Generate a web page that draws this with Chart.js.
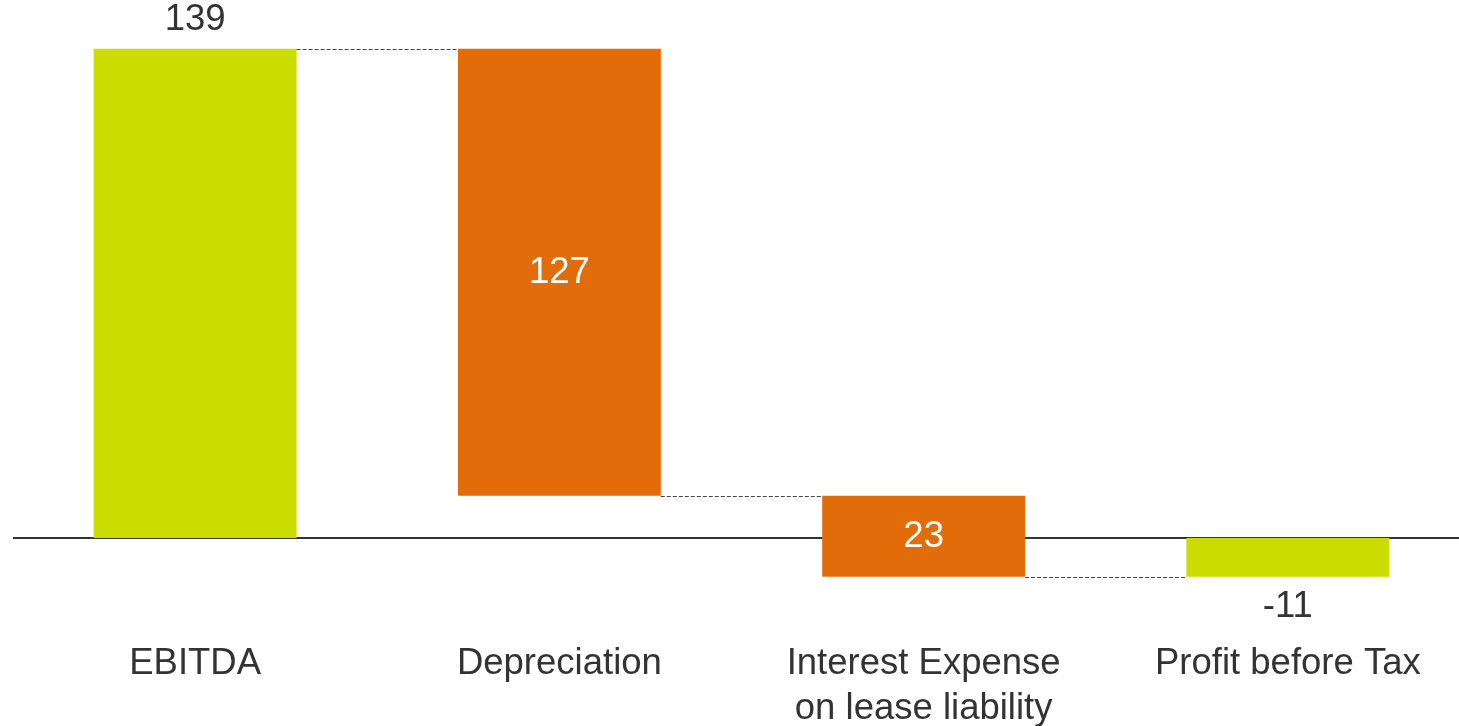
<!DOCTYPE html>
<html>
<head>
<meta charset="utf-8">
<script src="https://cdn.jsdelivr.net/npm/chart.js@4/dist/chart.umd.min.js"></script>
<style>
  html, body { margin: 0; padding: 0; background: #fff; overflow: hidden; }
  #wrap { width: 1470px; height: 746px; position: relative; }
</style>
</head>
<body>
<div id="wrap"><canvas id="bridge"></canvas></div>
<script>
'use strict';

// ---- data ----
const categories = ['EBITDA', 'Depreciation', ['Interest Expense', 'on lease liability'], 'Profit before Tax'];
const amounts = [139, -127, -23, -11];
const kinds = ['total', 'step', 'step', 'total'];
const barColours = ['#cbdd00', '#e36c0a', '#e36c0a', '#cbdd00'];

const FONT = '"Liberation Sans", Arial, sans-serif';
const TEXT = '#333333';

// ---- floating ranges for the bridge ----
function buildRanges(vals, types) {
  let running = 0;
  return vals.map((v, i) => {
    if (types[i] === 'total') { running = v; return [0, v]; }
    const r = [running, running + v];
    running += v;
    return r;
  });
}
const ranges = buildRanges(amounts, kinds);

// zero line under the bars
const zeroLine = {
  id: 'zeroLine',
  beforeDatasetsDraw(chart) {
    const { ctx, chartArea, scales } = chart;
    const y = Math.round(scales.y.getPixelForValue(0));
    ctx.save();
    ctx.strokeStyle = '#333';
    ctx.lineWidth = 2;
    ctx.beginPath();
    ctx.moveTo(chartArea.left, y);
    ctx.lineTo(chartArea.right, y);
    ctx.stroke();
    ctx.restore();
  }
};

// dashed connectors + value labels
const bridgeExtras = {
  id: 'bridgeExtras',
  afterDatasetsDraw(chart) {
    const { ctx, scales } = chart;
    const bars = chart.getDatasetMeta(0).data;
    ctx.save();

    // connectors: end level of each bar to the next bar
    ctx.strokeStyle = '#444';
    ctx.lineWidth = 1;
    ctx.setLineDash([4, 2]);
    for (let i = 0; i < bars.length - 1; i++) {
      const endVal = ranges[i][1];
      const y = Math.round(scales.y.getPixelForValue(endVal)) + 0.5;
      const x1 = bars[i].x + bars[i].width / 2;
      const x2 = bars[i + 1].x - bars[i + 1].width / 2;
      ctx.beginPath();
      ctx.moveTo(x1, y);
      ctx.lineTo(x2, y);
      ctx.stroke();
    }
    ctx.setLineDash([]);

    // labels
    ctx.font = `36.5px ${FONT}`;
    ctx.textAlign = 'center';
    ctx.textBaseline = 'middle';
    bars.forEach((bar, i) => {
      const v = amounts[i];
      const [a, b] = ranges[i];
      const top = scales.y.getPixelForValue(Math.max(a, b));
      const bottom = scales.y.getPixelForValue(Math.min(a, b));
      if (kinds[i] === 'total') {
        ctx.fillStyle = TEXT;
        const y = v >= 0 ? top - 29 : bottom + 30;
        ctx.fillText(String(v), bar.x, y);
      } else {
        ctx.fillStyle = '#ffffff';
        ctx.fillText(String(Math.abs(v)), bar.x, (top + bottom) / 2 + 1);
      }
    });
    ctx.restore();
  }
};

new Chart(document.getElementById('bridge').getContext('2d'), {
  type: 'bar',
  data: {
    labels: categories,
    datasets: [{
      data: ranges,
      backgroundColor: barColours,
      borderWidth: 0,
      borderSkipped: false,
      barPercentage: 0.557,
      categoryPercentage: 1
    }]
  },
  options: {
    responsive: true,
    maintainAspectRatio: false,
    animation: false,
    layout: { padding: { top: 10, left: 13, right: 0, bottom: 0 } },
    plugins: { legend: { display: false }, tooltip: { enabled: false } },
    scales: {
      x: {
        grid: { display: false, drawTicks: false },
        border: { display: false },
        ticks: {
          color: TEXT,
          padding: 15,
          maxRotation: 0,
          autoSkip: false,
          font: { family: FONT, size: 36.5, lineHeight: '45px' }
        }
      },
      y: { display: false, min: -25, max: 150 }
    }
  },
  plugins: [zeroLine, bridgeExtras]
});
</script>
</body>
</html>
